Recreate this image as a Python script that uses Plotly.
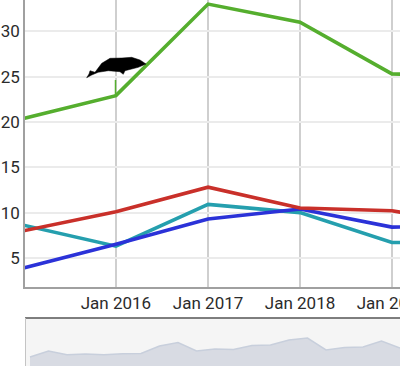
import plotly.graph_objects as go

dates = ["2015-01-01", "2016-01-01", "2017-01-01", "2018-01-01", "2019-01-01", "2020-01-01"]
green = [20.4, 22.9, 33.0, 31.0, 25.3, 25.0]
red = [8.0, 10.1, 12.8, 10.5, 10.2, 8.5]
teal = [8.6, 6.3, 10.9, 10.0, 6.7, 6.8]
blue = [3.9, 6.5, 9.3, 10.4, 8.4, 8.6]
tick_dates = ["2016-01-01", "2017-01-01", "2018-01-01", "2019-01-01"]
tick_text = ["Jan 2016", "Jan 2017", "Jan 2018", "Jan 2019"]
y_ticks = [5, 10, 15, 20, 25, 30]

overview_x = list(range(21))
overview_y = [9, 15, 11.3, 12, 11.3, 12.3, 12.5, 20, 23.5, 15, 17, 16.5, 20.5, 21, 26, 28, 16, 18.5, 19, 25, 18]

W, H = 400, 366
px = lambda v: v / W
py = lambda v: 1 - v / H

fig = go.Figure()
for vals, col in [(teal, "#259fae"), (blue, "#2b32d8"), (red, "#c9302a"), (green, "#55ae2e")]:
    fig.add_trace(go.Scatter(x=dates, y=vals, mode="lines", line=dict(color=col, width=3.6),
                             hoverinfo="skip", showlegend=False, xaxis="x", yaxis="y"))
fig.add_trace(go.Scatter(x=overview_x, y=overview_y, mode="lines", fill="tozeroy",
                         line=dict(color="#c8cfdc", width=1.5), fillcolor="#d8dbe3",
                         hoverinfo="skip", showlegend=False, xaxis="x2", yaxis="y2"))

whale = [(86.7, 77.7), (89, 74), (90, 70.7), (95, 72.3), (101.7, 63.3), (110, 58.3), (122, 58),
         (131.7, 57.3), (140, 60), (146, 64), (138.3, 67.3), (125, 70.7), (123.3, 74.3),
         (120, 71.7), (108.3, 70.7), (98.3, 72.3), (91.7, 75)]
path = "M " + " L ".join(f"{px(a):.4f},{py(b):.4f}" for a, b in whale) + " Z"

fig.update_layout(
    width=W, height=H, margin=dict(l=0, r=0, t=0, b=0), autosize=False,
    paper_bgcolor="white", plot_bgcolor="white",
    font=dict(family="Roboto", size=17, color="#2b2b2b"),
    xaxis=dict(type="date", domain=[px(25), 1], anchor="y", range=["2015-01-05", "2019-02-02"],
               automargin=False,
               tickmode="array", tickvals=tick_dates, ticktext=tick_text, ticks="",
               ticklabeloverflow="allow", showgrid=True, gridcolor="#cfcfcf", gridwidth=1.5,
               showline=True, linecolor="#a0a0a0", linewidth=1.5, zeroline=False),
    yaxis=dict(domain=[py(286.5), 1], anchor="x", range=[1.85, 33.45], automargin=False,
               tickmode="array", tickvals=y_ticks, ticks="", showgrid=True, gridcolor="#ebebeb",
               gridwidth=1.5, showline=True, linecolor="#a0a0a0", linewidth=1.5, zeroline=False),
    xaxis2=dict(domain=[px(25), 1], anchor="y2", range=[-0.27, 20], showticklabels=False,
                automargin=False, ticks="", showgrid=False, zeroline=False, showline=False),
    yaxis2=dict(domain=[0, py(318)], anchor="x2", range=[0, 48], showticklabels=False,
                automargin=False, ticks="", showgrid=False, zeroline=False, showline=False),
    shapes=[
        dict(type="rect", xref="paper", yref="paper", x0=px(25), x1=1, y0=0, y1=py(318),
             fillcolor="#f5f5f5", line=dict(width=0), layer="below"),
        dict(type="line", xref="paper", yref="paper", x0=px(25), x1=1, y0=py(318), y1=py(318),
             line=dict(color="#555555", width=1.5)),
        dict(type="line", xref="paper", yref="paper", x0=px(25.5), x1=px(25.5), y0=0, y1=py(318),
             line=dict(color="#c4c4c4", width=1)),
        dict(type="line", xref="paper", yref="paper", x0=px(115.5), x1=px(115.5), y0=py(80), y1=py(95),
             line=dict(color="#55ae2e", width=1.5)),
        dict(type="path", xref="paper", yref="paper", path=path, fillcolor="black",
             line=dict(color="black", width=0.5)),
    ],
)
fig.write_html(
    "out.html",
    config={"displayModeBar": False},
    post_script="document.documentElement.style.overflow='hidden';document.body.style.margin='0';"
                "document.body.style.overflow='hidden';"
                "Plotly.relayout(document.getElementById('{plot_id}'),{width:400,height:366});",
)
